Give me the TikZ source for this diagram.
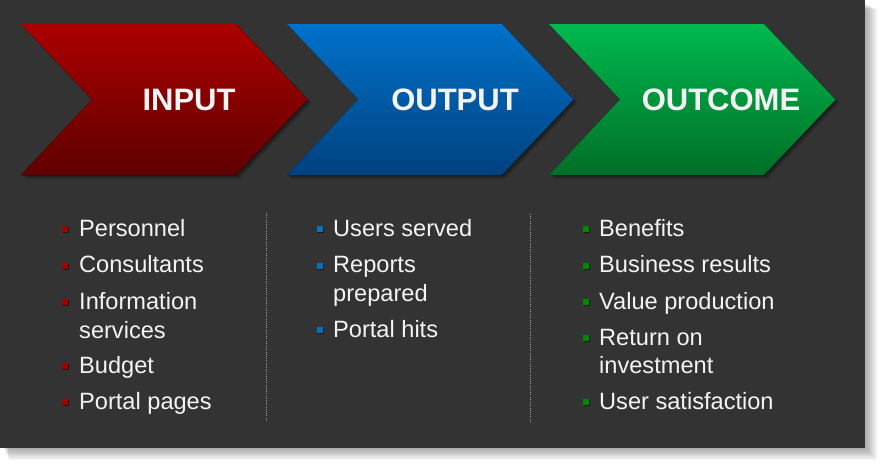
\documentclass[tikz,border=0pt]{standalone}
\usepackage{fontspec}
\setmainfont{Liberation Sans}
\definecolor{bgc}{HTML}{333333}
\definecolor{redtop}{HTML}{AC0000}
\definecolor{redbot}{HTML}{5E0000}
\definecolor{bluetop}{HTML}{0072CA}
\definecolor{bluebot}{HTML}{00417F}
\definecolor{greentop}{HTML}{00B94F}
\definecolor{greenbot}{HTML}{006F27}
\definecolor{redbul}{HTML}{A00000}
\definecolor{bluebul}{HTML}{0070C0}
\definecolor{greenbul}{HTML}{008A00}
\definecolor{txt}{HTML}{F4F4F4}
\tikzset{
  head/.style={text=txt,font=\fontsize{31}{32}\selectfont\bfseries,anchor=base,inner sep=0pt},
  itemtext/.style={text=txt,font=\fontsize{23.6}{28}\selectfont,anchor=base west,inner sep=0pt},
  divider/.style={draw=gray!75,line width=0.8pt,dash pattern=on 1pt off 1.2pt}
}
\newcommand\chevpath[1]{(#1,24) -- (#1+215,24) -- (#1+286.5,99.5) -- (#1+215,175) -- (#1,175) -- (#1+71,99.5) -- cycle}
\begin{document}
\begin{tikzpicture}[x=1pt,y=-1pt]
\useasboundingbox (0,0) rectangle (881,464);
\fill[white] (0,0) rectangle (881,464);
% panel shadow
\foreach \i in {1,...,10}{
  \fill[black,opacity=0.035] (\i*0.6+3,\i*0.6+3) rectangle (865+\i*1.2,448+\i*1.2);
}
\fill[bgc] (0,0) rectangle (865,448);
% chevrons
\foreach \X/\ct/\cb in {21/redtop/redbot,287/bluetop/bluebot,549/greentop/greenbot}{
  \foreach \k in {1,...,4}{
    \fill[black,opacity=0.13,shift={(\k*0.9,\k*0.9)}] \chevpath{\X};
  }
  \fill[top color=\ct,bottom color=\cb] \chevpath{\X};
}
\node[head] (tinput) at (189,110) {INPUT};
\node[head] (toutput) at (455,110) {OUTPUT};
\node[head] (toutcome) at (721,110) {OUTCOME};
% dividers
\coordinate (d1a) at (266,213); \coordinate (d1b) at (266,420);
\coordinate (d2a) at (530,214); \coordinate (d2b) at (530,422);
\draw[divider] (d1a) -- (d1b);
\draw[divider] (d2a) -- (d2b);
% bullet shadows and bullets
\foreach \bx/\by/\bc in {64.5/236/redbul,64.5/272.5/redbul,64.5/309/redbul,64.5/373/redbul,64.5/409/redbul,
                         319.5/236/bluebul,319.5/272.5/bluebul,319.5/337/bluebul,
                         585.5/236/greenbul,585.5/272.5/greenbul,585.5/309/greenbul,585.5/345/greenbul,585.5/409/greenbul}{
  \fill[black,opacity=0.5] (\bx-2,\by-9) rectangle (\bx+4,\by-3);
  \fill[\bc] (\bx-3,\by-10) rectangle (\bx+3,\by-4);
}
% column 1
\node[itemtext] (a1) at (79,236) {Personnel};
\node[itemtext] (a2) at (79,272.5) {Consultants};
\node[itemtext] (a3) at (79,309) {Information};
\node[itemtext] (a3b) at (79,338) {services};
\node[itemtext] (a4) at (79,373) {Budget};
\node[itemtext] (a5) at (79,409) {Portal pages};
% column 2
\node[itemtext] (b1) at (333,236) {Users served};
\node[itemtext] (b2) at (333,272.5) {Reports};
\node[itemtext] (b2b) at (333,301) {prepared};
\node[itemtext] (b3) at (333,337) {Portal hits};
% column 3
\node[itemtext] (c1) at (599,236) {Benefits};
\node[itemtext] (c2) at (599,272.5) {Business results};
\node[itemtext] (c3) at (599,309) {Value production};
\node[itemtext] (c4) at (599,345) {Return on};
\node[itemtext] (c4b) at (599,373) {investment};
\node[itemtext] (c5) at (599,409) {User satisfaction};
\end{tikzpicture}
\end{document}
